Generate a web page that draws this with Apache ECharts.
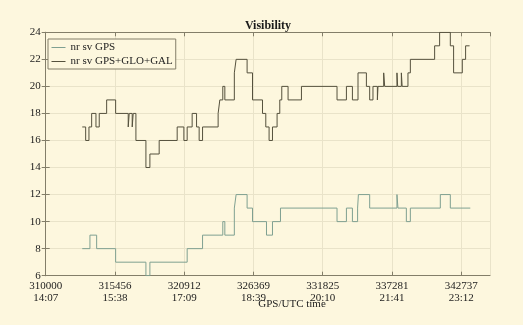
<!DOCTYPE html>
<html>
<head>
<meta charset="utf-8">
<script src="https://cdn.jsdelivr.net/npm/echarts@6/dist/echarts.min.js"></script>
<style>
html,body{margin:0;padding:0;background:#FDF7DE;}
#chart{width:523px;height:325px;}
</style>
</head>
<body>
<div id="chart"></div>
<script>
// ---- data ----
const X0 = 310000;
const X_STEP = 32737 / 6;
const gpsTickLabels = ['310000', '315456', '320912', '326369', '331825', '337281', '342737'];
const utcTickLabels = ['14:07', '15:38', '17:09', '18:39', '20:10', '21:41', '23:12'];
const yMin = 6, yMax = 24, yStep = 2;

const seriesNames = ['nr sv GPS', 'nr sv GPS+GLO+GAL'];

const gpsTime = [312880, 313486, 314014, 315509, 317894, 318208, 321144, 322356, 323950, 324111,
  324860, 325000, 325866, 326291, 327393, 327865, 328495, 332949, 333689, 334161,
  334570, 334633, 335522, 337671, 337750, 338411, 338726, 341087, 341874, 343448];
const gpsCount = [8, 9, 8, 7, 6, 7, 8, 9, 10, 9,
  11, 12, 11, 10, 9, 10, 11, 10, 11, 10,
  11, 12, 11, 12, 11, 10, 11, 12, 11, 11];

const allTime = [312880, 313148, 313408, 313620, 313959, 314218, 314801, 315509, 316501, 316579,
  316815, 316894, 317107, 317894, 318208, 318940, 320357, 320884, 321144, 321537,
  321884, 322088, 322356, 323584, 323717, 323950, 324111, 324860, 325000, 325866,
  326291, 327078, 327338, 327597, 327865, 328227, 328439, 328597, 329093, 330147,
  332949, 333689, 334161, 334602, 335263, 335522, 335782, 336128, 336176, 336624,
  336703, 337671, 337726, 338017, 338080, 338537, 338726, 340638, 341031, 341874,
  342133, 342818, 343078, 343392];
const allCount = [17, 16, 17, 18, 17, 18, 19, 18, 17, 18,
  17, 18, 16, 14, 15, 16, 17, 16, 17, 18,
  17, 16, 17, 18, 19, 20, 19, 21, 22, 21,
  19, 18, 17, 16, 17, 18, 19, 20, 19, 20,
  19, 20, 19, 21, 20, 19, 20, 19, 20, 21,
  20, 21, 20, 21, 20, 21, 22, 23, 24, 23,
  21, 22, 23, 23];

// ---- styles ----
const BG = '#FDF7DE';
const AX = '#837E69';
const GRID = '#E9E3C9';
const TXT = '#1c1c1c';
const FONT = "'Liberation Serif', 'Times New Roman', serif";
const C_GPS = '#7FA091';
const C_ALL = '#55513D';

function toPairs(t, c) { return t.map((v, i) => [v - X0, c[i]]); }

function xFmt(v) {
  const i = Math.round(v / X_STEP);
  if (Math.abs(v - i * X_STEP) > 1 || i < 0 || i >= gpsTickLabels.length) return '';
  return gpsTickLabels[i] + '\n' + utcTickLabels[i];
}

const baseX = {
  type: 'value', min: 0, max: 35000, interval: X_STEP,
  axisLine: { show: true, lineStyle: { color: AX, width: 1 } },
  axisTick: { show: true, inside: true, length: 4, lineStyle: { color: AX } }
};
const baseY = {
  type: 'value', min: yMin, max: yMax, interval: yStep,
  axisLine: { show: true, lineStyle: { color: AX, width: 1 } },
  axisTick: { show: true, inside: true, length: 4, lineStyle: { color: AX } }
};

const chart = echarts.init(document.getElementById('chart'), null, { renderer: 'canvas' });
chart.setOption({
  backgroundColor: BG,
  animation: false,
  title: {
    text: 'Visibility', left: 268, top: 20, padding: 0, textAlign: 'center',
    textStyle: { fontFamily: FONT, fontSize: 12, fontWeight: 'bold', color: TXT }
  },
  legend: {
    data: seriesNames, orient: 'vertical', left: 48, top: 39,
    padding: [3, 3, 2, 3], itemGap: 3, itemWidth: 14, itemHeight: 11,
    borderColor: AX, borderWidth: 1, backgroundColor: BG,
    itemStyle: { opacity: 0 },
    lineStyle: { width: 1 },
    textStyle: { fontFamily: FONT, fontSize: 11, color: TXT, lineHeight: 11 }
  },
  grid: { left: 45.7, right: 33, top: 32.3, bottom: 49.3, containLabel: false },
  xAxis: [
    Object.assign({}, baseX, {
      position: 'bottom',
      axisLabel: { formatter: xFmt, fontFamily: FONT, fontSize: 11, color: TXT, lineHeight: 12, margin: 4, showMaxLabel: false },
      splitLine: { show: true, lineStyle: { color: GRID, width: 1 } }
    }),
    Object.assign({}, baseX, {
      position: 'top', axisLabel: { show: false }, splitLine: { show: false }
    })
  ],
  yAxis: [
    Object.assign({}, baseY, {
      position: 'left',
      axisLabel: { fontFamily: FONT, fontSize: 11, color: TXT, margin: 5 },
      splitLine: { show: true, lineStyle: { color: GRID, width: 1 } }
    }),
    Object.assign({}, baseY, {
      position: 'right', axisLabel: { show: false }, splitLine: { show: false }
    })
  ],
  graphic: [{
    type: 'text', x: 292, y: 304,
    style: { text: 'GPS/UTC time', align: 'center', verticalAlign: 'middle', font: "11px 'Liberation Serif', serif", fill: TXT }
  }],
  series: [
    {
      name: seriesNames[0], type: 'line', step: 'end', symbol: 'none', showSymbol: false,
      xAxisIndex: 0, yAxisIndex: 0,
      lineStyle: { color: C_GPS, width: 1 }, itemStyle: { color: C_GPS },
      data: toPairs(gpsTime, gpsCount)
    },
    {
      name: seriesNames[1], type: 'line', step: 'end', symbol: 'none', showSymbol: false,
      xAxisIndex: 0, yAxisIndex: 0,
      lineStyle: { color: C_ALL, width: 1 }, itemStyle: { color: C_ALL },
      data: toPairs(allTime, allCount)
    }
  ]
});
</script>
</body>
</html>
